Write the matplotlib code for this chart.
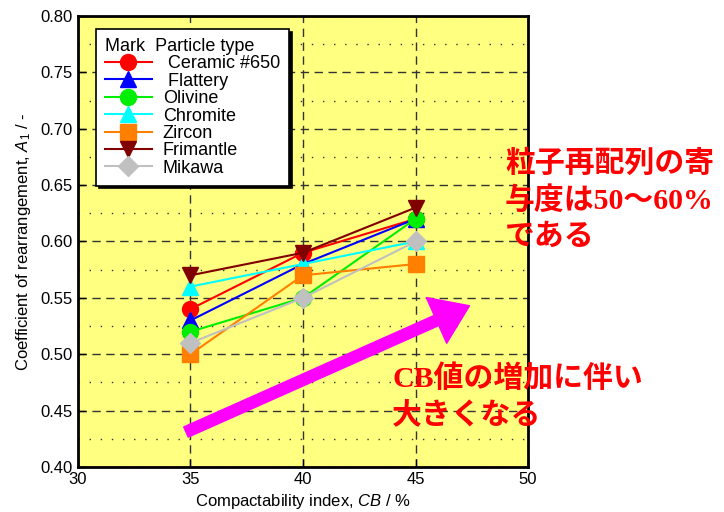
import matplotlib
matplotlib.use('Agg')
import matplotlib.pyplot as plt
from matplotlib.ticker import MultipleLocator

plt.rcParams['font.family'] = ['Liberation Sans', 'Noto Sans CJK JP']
plt.rcParams['mathtext.fontset'] = 'custom'
plt.rcParams['mathtext.rm'] = 'Liberation Sans'
plt.rcParams['mathtext.it'] = 'Liberation Sans:italic'

# データ
cb = [35, 40, 45]
names = [' Ceramic #650', ' Flattery', 'Olivine', 'Chromite', 'Zircon', 'Frimantle', 'Mikawa']
ceramic = [0.54, 0.59, 0.62]
flattery = [0.53, 0.58, 0.62]
olivine = [0.52, 0.55, 0.62]
chromite = [0.56, 0.58, 0.60]
zircon = [0.50, 0.57, 0.58]
frimantle = [0.57, 0.59, 0.63]
mikawa = [0.51, 0.55, 0.60]

series = [ceramic, flattery, olivine, chromite, zircon, frimantle, mikawa]
colors = ['#ff0000', '#0000ff', '#00ee00', '#00ffff', '#ff8000', '#800000', '#c0c0c0']
markers = ['o', '^', 'o', '^', 's', 'v', 'D']
msizes = [11.5, 11.5, 11.5, 11.5, 11, 11.5, 10.5]

fig = plt.figure(figsize=(7.24, 5.12), dpi=100)
ax = fig.add_axes([0.1077, 0.0879, 0.6216, 0.8809])
ax.set_facecolor('#ffff80')

for name, y, c, m, s in zip(names, series, colors, markers, msizes):
    ax.plot(cb, y, color=c, marker=m, markersize=s, linewidth=1.5, label=name)

ax.set_xlim(30, 50)
ax.set_ylim(0.40, 0.80)
ax.xaxis.set_major_locator(MultipleLocator(5))
ax.yaxis.set_major_locator(MultipleLocator(0.05))
ax.yaxis.set_minor_locator(MultipleLocator(0.025))
ax.yaxis.set_major_formatter(matplotlib.ticker.FormatStrFormatter('%.2f'))
ax.tick_params(direction='in', labelsize=12, length=6, width=1)
ax.tick_params(which='minor', length=0)
ax.grid(which='major', axis='both', color='#333333', linestyle=(0, (6, 4)), linewidth=1)
ax.grid(which='minor', axis='y', color='#333333', linestyle=(0, (1, 7)), linewidth=1)
ax.set_axisbelow(True)
for sp in ax.spines.values():
    sp.set_linewidth(2)

ax.set_xlabel('Compactability index, $\\it{CB}$ / %', fontsize=12, labelpad=4)
ax.set_ylabel('Coefficient of rearrangement, $\\it{A}_1$ / -', fontsize=12, labelpad=6)

leg = ax.legend(loc='upper left', bbox_to_anchor=(0.04, 0.971), borderaxespad=0,
                title='Mark  Particle type', title_fontsize=13, fontsize=13,
                frameon=True, fancybox=False, edgecolor='black', framealpha=1,
                shadow={'color': 'black', 'alpha': 1}, labelspacing=0.02,
                handlelength=2.6, handletextpad=0.6, borderpad=0.5, alignment='left')
leg.get_frame().set_linewidth(1.2)

# 矢印
ax.annotate('', xy=(47.4, 0.543), xytext=(34.8, 0.431),
            arrowprops=dict(arrowstyle='simple,head_width=3.6,head_length=2.6,tail_width=0.8',
                            color='#ff00ff', shrinkA=0, shrinkB=0),
            annotation_clip=False)

ax.text(0.949, 0.705, '粒子再配列の寄\n与度は50〜60%\nである', transform=ax.transAxes,
        color='red', fontsize=21.5, fontweight='bold', va='top', ha='left',
        family=['Liberation Serif', 'Noto Sans CJK JP'], linespacing=1.4, clip_on=False)
ax.text(0.698, 0.228, 'CB値の増加に伴い\n大きくなる', transform=ax.transAxes,
        color='red', fontsize=21.5, fontweight='bold', va='top', ha='left',
        family=['Liberation Serif', 'Noto Sans CJK JP'], linespacing=1.4, clip_on=False)

fig.savefig('out.png', dpi=100)
